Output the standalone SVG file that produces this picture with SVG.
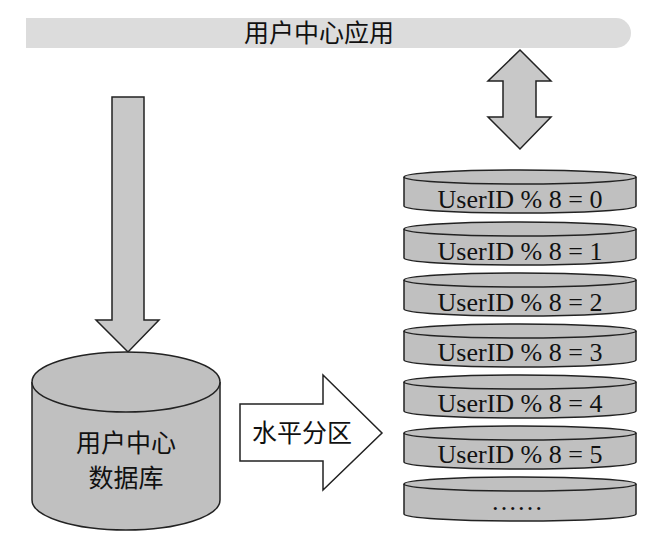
<svg xmlns="http://www.w3.org/2000/svg" width="666" height="546" viewBox="0 0 666 546">
<style>
.cjk{font-family:"Noto Sans CJK SC","Noto Sans",sans-serif;fill:#111;text-anchor:middle}
.tnr{font-family:"Liberation Serif",serif;font-size:26px;fill:#111;text-anchor:middle}
.g{fill:#c0c0c0;stroke:#222;stroke-width:1.5}
.a{fill:#c8c8c8;stroke:#222;stroke-width:1.5;stroke-linejoin:miter}
</style>
<rect width="666" height="546" fill="#fff"/>
<g id="app">
<path d="M26,18 H616 A15,15 0 0 1 616,48 H26 Z" fill="#dcdcdc"/>
<text class="cjk" x="319" y="42" font-size="25">用户中心应用</text>
</g>
<g id="connectors">
<path class="a" d="M520,50 L551,81 L536,81 L536,117 L551,117 L520,149 L488,117 L503,117 L503,81 L488,81 Z"/>
<path class="a" d="M112,97 H144 V320 H159 L128,352 L96,320 H112 Z"/>
</g>
<g id="db">
<path class="g" d="M32,382 V500 A94,30 0 0 0 220,500 V382"/>
<ellipse class="g" cx="126" cy="382" rx="94" ry="30"/>
<text class="cjk" x="126" y="452" font-size="25">用户中心</text>
<text class="cjk" x="126" y="487" font-size="25">数据库</text>
</g>
<g id="partition">
<path d="M240,404 H323 V375 L382,433 L323,490 V461 H240 Z" fill="#fff" stroke="#222" stroke-width="1.5"/>
<text class="cjk" x="302" y="442" font-size="25">水平分区</text>
</g>
<g id="shard0">
<path class="g" d="M404,177 V206 A116,7 0 0 0 636,206 V177"/>
<ellipse class="g" cx="520" cy="177" rx="116" ry="7"/>
<text class="tnr" x="520" y="208">UserID % 8 = 0</text>
</g>
<g id="shard1">
<path class="g" d="M404,229 V258 A116,7 0 0 0 636,258 V229"/>
<ellipse class="g" cx="520" cy="229" rx="116" ry="7"/>
<text class="tnr" x="520" y="260">UserID % 8 = 1</text>
</g>
<g id="shard2">
<path class="g" d="M404,280 V309 A116,7 0 0 0 636,309 V280"/>
<ellipse class="g" cx="520" cy="280" rx="116" ry="7"/>
<text class="tnr" x="520" y="311">UserID % 8 = 2</text>
</g>
<g id="shard3">
<path class="g" d="M404,331 V360 A116,7 0 0 0 636,360 V331"/>
<ellipse class="g" cx="520" cy="331" rx="116" ry="7"/>
<text class="tnr" x="520" y="361">UserID % 8 = 3</text>
</g>
<g id="shard4">
<path class="g" d="M404,382 V411 A116,7 0 0 0 636,411 V382"/>
<ellipse class="g" cx="520" cy="382" rx="116" ry="7"/>
<text class="tnr" x="520" y="412">UserID % 8 = 4</text>
</g>
<g id="shard5">
<path class="g" d="M404,433 V462 A116,7 0 0 0 636,462 V433"/>
<ellipse class="g" cx="520" cy="433" rx="116" ry="7"/>
<text class="tnr" x="520" y="463">UserID % 8 = 5</text>
</g>
<g id="shard6">
<path class="g" d="M404,484 V514 A116,7 0 0 0 636,514 V484"/>
<ellipse class="g" cx="520" cy="484" rx="116" ry="7"/>
<text class="tnr" x="517" y="510">……</text>
</g>
</svg>
